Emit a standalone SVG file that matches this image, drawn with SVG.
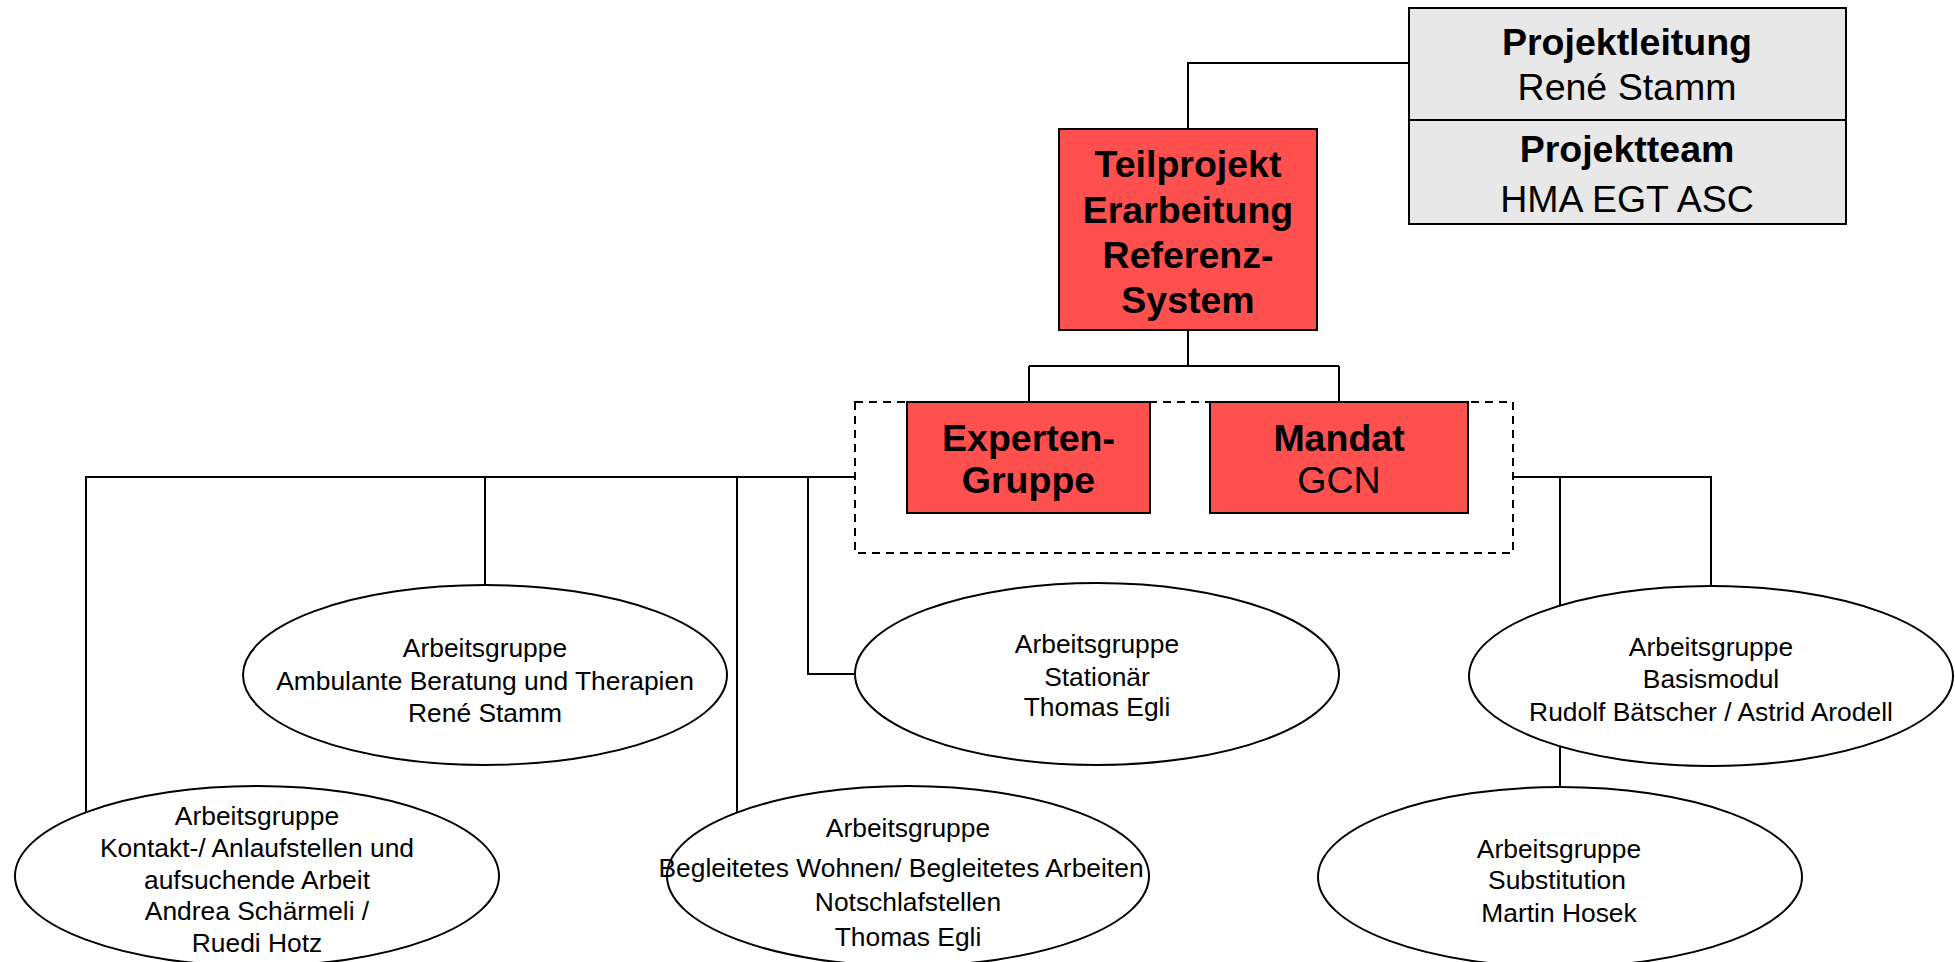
<svg xmlns="http://www.w3.org/2000/svg" width="1955" height="962" viewBox="0 0 1955 962">
<style>
text{font-family:"Liberation Sans",Arial,sans-serif;fill:#000;text-anchor:middle}
.b{font-weight:bold;font-size:37.5px}
.r{font-size:37.5px}
.s{font-size:26.4px}
.red{fill:#FF5050;stroke:#000;stroke-width:2}
.gray{fill:#E8E8E8;stroke:#000;stroke-width:2}
.ell{fill:#fff;stroke:#000;stroke-width:2}
.con{fill:none;stroke:#000;stroke-width:2}
.dash{fill:none;stroke:#000;stroke-width:2;stroke-dasharray:8 6}
</style>
<g id="connectors">
<path class="con" d="M1409,63 H1188 V129"/>
<path class="con" d="M1188,330 V366 M1029,366 H1339 M1029,366 V402 M1339,366 V402"/>
<path class="con" d="M855,477 H86 V876"/>
<path class="con" d="M485,477 V586"/>
<path class="con" d="M737,477 V876"/>
<path class="con" d="M808,477 V674 H856"/>
<path class="con" d="M1513,477 H1711 V586"/>
<path class="con" d="M1560,477 V787"/>
</g>
<g id="projektleitung">
<rect class="gray" x="1409" y="8" width="437" height="216"/>
<line x1="1409" y1="120" x2="1846" y2="120" stroke="#000" stroke-width="2"/>
<text class="b" x="1627" y="55">Projektleitung</text>
<text class="r" x="1627" y="100">René Stamm</text>
<text class="b" x="1627" y="162">Projektteam</text>
<text class="r" x="1627" y="212">HMA EGT ASC</text>
</g>
<g id="teilprojekt">
<rect class="red" x="1059" y="129" width="258" height="201"/>
<text class="b" x="1188" y="177">Teilprojekt</text>
<text class="b" x="1188" y="222.5">Erarbeitung</text>
<text class="b" x="1188" y="268">Referenz-</text>
<text class="b" x="1188" y="313">System</text>
</g>
<g id="gruppe-rahmen">
<rect class="dash" x="855" y="402" width="658" height="151"/>
</g>
<g id="experten">
<rect class="red" x="907" y="402" width="243" height="111"/>
<text class="b" x="1028.5" y="451">Experten-</text>
<text class="b" x="1028.5" y="493">Gruppe</text>
</g>
<g id="mandat">
<rect class="red" x="1210" y="402" width="258" height="111"/>
<text class="b" x="1339" y="451">Mandat</text>
<text class="r" x="1339" y="493">GCN</text>
</g>
<g id="ag-ambulant">
<ellipse class="ell" cx="485" cy="675" rx="242" ry="90"/>
<text class="s" x="485" y="656.5">Arbeitsgruppe</text>
<text class="s" x="485" y="689.5">Ambulante Beratung und Therapien</text>
<text class="s" x="485" y="722">René Stamm</text>
</g>
<g id="ag-stationaer">
<ellipse class="ell" cx="1097" cy="674" rx="242" ry="91"/>
<text class="s" x="1097" y="652.5">Arbeitsgruppe</text>
<text class="s" x="1097" y="686">Stationär</text>
<text class="s" x="1097" y="716">Thomas Egli</text>
</g>
<g id="ag-basismodul">
<ellipse class="ell" cx="1711" cy="676" rx="242" ry="90"/>
<text class="s" x="1711" y="655.5">Arbeitsgruppe</text>
<text class="s" x="1711" y="688">Basismodul</text>
<text class="s" x="1711" y="721">Rudolf Bätscher / Astrid Arodell</text>
</g>
<g id="ag-kontakt">
<ellipse class="ell" cx="257" cy="876" rx="242" ry="90"/>
<text class="s" x="257" y="825">Arbeitsgruppe</text>
<text class="s" x="257" y="857">Kontakt-/ Anlaufstellen und</text>
<text class="s" x="257" y="889">aufsuchende Arbeit</text>
<text class="s" x="257" y="920">Andrea Schärmeli /</text>
<text class="s" x="257" y="952">Ruedi Hotz</text>
</g>
<g id="ag-begleitet">
<ellipse class="ell" cx="908" cy="876" rx="241" ry="90"/>
<text class="s" x="908" y="836.5">Arbeitsgruppe</text>
<text class="s" x="901" y="876.5">Begleitetes Wohnen/ Begleitetes Arbeiten</text>
<text class="s" x="908" y="911">Notschlafstellen</text>
<text class="s" x="908" y="945.5">Thomas Egli</text>
</g>
<g id="ag-substitution">
<ellipse class="ell" cx="1560" cy="877" rx="242" ry="90"/>
<text class="s" x="1559" y="857.5">Arbeitsgruppe</text>
<text class="s" x="1557" y="889">Substitution</text>
<text class="s" x="1559" y="921.5">Martin Hosek</text>
</g>
</svg>
